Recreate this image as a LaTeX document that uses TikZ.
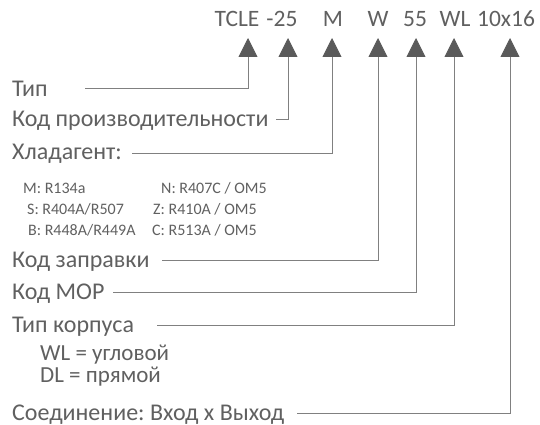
\documentclass[tikz,border=0pt]{standalone}
\usepackage{fontspec}
\setmainfont{Carlito}
\frenchspacing
\usetikzlibrary{arrows.meta}
\definecolor{ink}{HTML}{606060}
\definecolor{leadgray}{HTML}{808080}
\definecolor{tipgray}{HTML}{5A5A5A}

\begin{document}
\begin{tikzpicture}[x=1pt,y=-1pt,
  code/.style={text=ink,anchor=base,inner sep=0pt,font=\fontsize{23.5}{27}\selectfont},
  lbl/.style={text=ink,anchor=base west,inner sep=0pt,font=\fontsize{24}{27}\selectfont},
  small/.style={text=ink,anchor=base west,inner sep=0pt,font=\fontsize{16}{18}\selectfont},
  lead/.style={draw=leadgray,line width=0.9pt,-{Triangle[length=19pt,width=19pt,color=tipgray]}}]
  \useasboundingbox (0,0) rectangle (540,425);

  % ===== type code =====
  \node[code] (cTCLE) at (237,27) {TCLE};
  \node[code] (cCap) at (282,27) {-25};
  \node[code] (cRef) at (333,27) {M};
  \node[code] (cChg) at (378,27) {W};
  \node[code] (cMop) at (415,27) {55};
  \node[code] (cBody) at (455,27) {WL};
  \node[code] (cConn) at (506,27) {10x16};
  \coordinate (tTCLE) at (248,38);
  \coordinate (tCap) at (288,38);
  \coordinate (tRef) at (332,38);
  \coordinate (tChg) at (378,38);
  \coordinate (tMop) at (416,38);
  \coordinate (tBody) at (454,38);
  \coordinate (tConn) at (510,38);

  % ===== labels =====
  \node[lbl] (lType) at (12,96) {Тип};
  \node[lbl] (lCap) at (12,126) {Код производительности};
  \node[lbl] (lRef) at (12,159) {Хладагент:};
  \node[small] (r1) at (23,193) {M: R134a};
  \node[small] (r2) at (161,193) {N: R407C / OM5};
  \node[small] (r3) at (27,214) {S: R404A/R507};
  \node[small] (r4) at (153,214) {Z: R410A / OM5};
  \node[small] (r5) at (28,235) {B: R448A/R449A};
  \node[small] (r6) at (152,235) {C: R513A / OM5};
  \node[lbl] (lChg) at (12,267) {Код заправки};
  \node[lbl] (lMop) at (12,299) {Код МОР};
  \node[lbl] (lBody) at (12,332) {Тип корпуса};
  \node[lbl,align=left,font=\fontsize{23}{22}\selectfont] (lBodyKinds) at (40,382) {WL = угловой\\DL = прямой};
  \node[lbl] (lConn) at (12,420) {Соединение: Вход х Выход};

  % ===== leaders =====
  \coordinate (sType) at (85,88);
  \coordinate (sCap) at (276,119);
  \coordinate (sRef) at (132,153);
  \coordinate (sChg) at (162,260);
  \coordinate (sMop) at (113,292);
  \coordinate (sBody) at (157,325);
  \coordinate (sConn) at (297,413);
  \draw[lead] (sType) -| (tTCLE);
  \draw[lead] (sCap) -| (tCap);
  \draw[lead] (sRef) -| (tRef);
  \draw[lead] (sChg) -| (tChg);
  \draw[lead] (sMop) -| (tMop);
  \draw[lead] (sBody) -| (tBody);
  \draw[lead] (sConn) -| (tConn);
\end{tikzpicture}
\end{document}
